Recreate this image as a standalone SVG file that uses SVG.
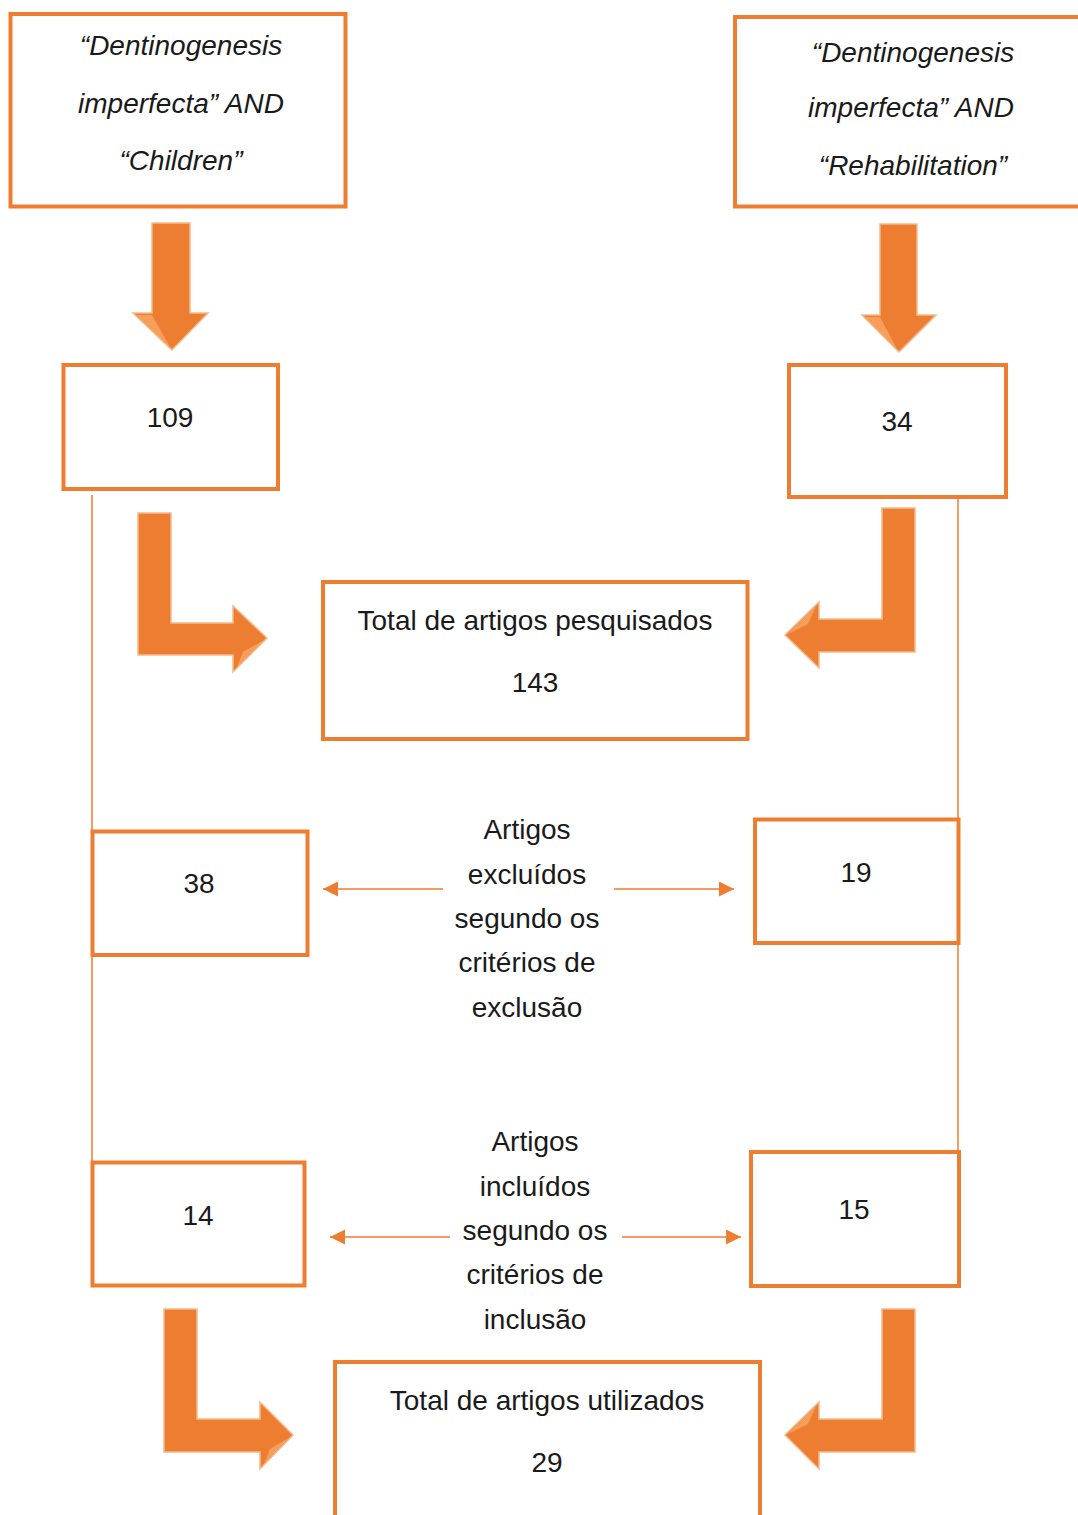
<svg xmlns="http://www.w3.org/2000/svg" width="1078" height="1515" viewBox="0 0 1078 1515">
<defs>
<style>
.box{fill:#fff;stroke:#ED7D31;stroke-width:4}
.t{font-family:"Liberation Sans",Arial,sans-serif;font-size:28px;fill:#1a1a1a;text-anchor:middle}
.it{font-style:italic}
.thin{stroke:#ED7D31;stroke-width:1.5;fill:none}
.blk{fill:#ED7D31;stroke:#F6B98C;stroke-width:1.5;stroke-linejoin:miter}
.hl{fill:#F7A766;opacity:0.8}
</style>
<marker id="ah" markerUnits="userSpaceOnUse" markerWidth="16" markerHeight="16" refX="15" refY="7.5" orient="auto">
<path d="M0,0 L15,7.5 L0,15 Z" fill="#ED7D31"/>
</marker>
</defs>
<rect width="1078" height="1515" fill="#fff"/>

<g id="connectors">
<line class="thin" x1="92" y1="495" x2="92" y2="831"/>
<line class="thin" x1="92" y1="955" x2="92" y2="1162"/>
<line class="thin" x1="958" y1="497" x2="958" y2="819"/>
<line class="thin" x1="958" y1="943" x2="958" y2="1152"/>
<line class="thin" x1="443" y1="889" x2="323" y2="889" marker-end="url(#ah)"/>
<line class="thin" x1="614" y1="889" x2="734" y2="889" marker-end="url(#ah)"/>
<line class="thin" x1="450" y1="1237" x2="330" y2="1237" marker-end="url(#ah)"/>
<line class="thin" x1="622" y1="1237" x2="741" y2="1237" marker-end="url(#ah)"/>
<g id="block-arrows">
<polygon class="blk" points="152,223 190,223 190,313 208,313 172,350 133,313 152,313"/>
<polygon class="hl" points="136,315 152,315 170,347 158,336"/>
<polygon class="blk" points="880,224 917,224 917,315 936,315 899,352 862,315 880,315"/>
<polygon class="hl" points="865,317 880,317 897,349 885,338"/>
<polygon class="blk" points="138,513 171,513 171,623 233,623 233,606 267,638 233,672 233,655 138,655"/>
<polygon class="hl" points="264,640 237,667 243,652"/>
<polygon class="blk" points="882,508 915,508 915,652 819,652 819,668 785,635 819,602 819,619 882,619"/>
<polygon class="hl" points="788,634 816,606 808,624"/>
<polygon class="blk" points="164,1309 197,1309 197,1419 260,1419 260,1402 293,1435 260,1469 260,1452 164,1452"/>
<polygon class="hl" points="290,1437 264,1464 270,1449"/>
<polygon class="blk" points="882,1309 915,1309 915,1452 819,1452 819,1469 785,1435 819,1402 819,1419 882,1419"/>
<polygon class="hl" points="788,1434 816,1406 808,1424"/>
</g>
</g>

<g id="query-children">
<rect class="box" x="10.5" y="14" width="335" height="192.5"/>
<text class="t it" x="181" y="55">“Dentinogenesis</text>
<text class="t it" x="181" y="113">imperfecta” AND</text>
<text class="t it" x="181" y="170">“Children”</text>
</g>

<g id="query-rehab">
<rect class="box" x="735" y="17" width="360" height="189.5"/>
<text class="t it" x="913" y="62">“Dentinogenesis</text>
<text class="t it" x="911" y="117">imperfecta” AND</text>
<text class="t it" x="913" y="175">“Rehabilitation”</text>
</g>

<g id="n109">
<rect class="box" x="63.5" y="365" width="214.5" height="124"/>
<text class="t" x="170" y="427">109</text>
</g>

<g id="n34">
<rect class="box" x="789" y="365" width="217" height="132"/>
<text class="t" x="897" y="431">34</text>
</g>

<g id="total-pesquisados">
<rect class="box" x="323" y="582" width="424.5" height="157"/>
<text class="t" x="535" y="630">Total de artigos pesquisados</text>
<text class="t" x="535" y="692">143</text>
</g>

<g id="n38">
<rect class="box" x="92.5" y="831.5" width="215" height="123.5"/>
<text class="t" x="199" y="893">38</text>
</g>

<g id="label-excluidos">
<text class="t" x="527" y="839">Artigos</text>
<text class="t" x="527" y="884">excluídos</text>
<text class="t" x="527" y="928">segundo os</text>
<text class="t" x="527" y="972">critérios de</text>
<text class="t" x="527" y="1017">exclusão</text>
</g>

<g id="n19">
<rect class="box" x="755" y="819.5" width="203.5" height="123.5"/>
<text class="t" x="856" y="882">19</text>
</g>

<g id="n14">
<rect class="box" x="92.5" y="1162.5" width="212" height="123"/>
<text class="t" x="198" y="1225">14</text>
</g>

<g id="label-incluidos">
<text class="t" x="535" y="1151">Artigos</text>
<text class="t" x="535" y="1196">incluídos</text>
<text class="t" x="535" y="1240">segundo os</text>
<text class="t" x="535" y="1284">critérios de</text>
<text class="t" x="535" y="1329">inclusão</text>
</g>

<g id="n15">
<rect class="box" x="751" y="1152" width="208" height="134"/>
<text class="t" x="854" y="1219">15</text>
</g>

<g id="total-utilizados">
<rect class="box" x="335" y="1362" width="425" height="200"/>
<text class="t" x="547" y="1410">Total de artigos utilizados</text>
<text class="t" x="547" y="1472">29</text>
</g>
</svg>
